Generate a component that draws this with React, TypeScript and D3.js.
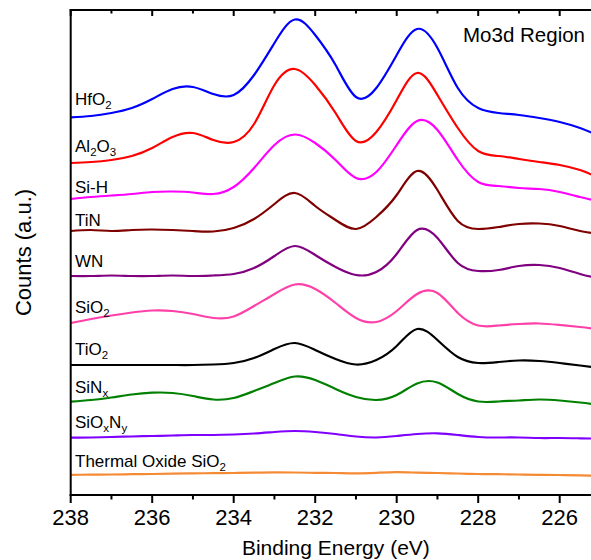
import React from "react";
import * as d3 from "d3";

const energies = [238, 237.5, 237, 236.5, 236, 235.5, 235, 234.5, 234, 233.5, 233, 232.5, 232, 231.5, 231, 230.5, 230, 229.5, 229, 228.5, 228, 227.5, 227, 226.5, 226, 225.5, 225.2];

const hfo2 = [377.7, 379, 382, 387, 396, 406, 408, 401, 400, 420, 452, 475.5, 460, 430, 398, 407, 440, 466, 447, 407, 387, 382, 380, 377, 373, 367, 362];
const al2o3 = [332, 333, 335, 339, 347, 358, 362, 355, 353, 371, 410, 426, 410, 382, 354, 363, 395, 422, 400, 367, 344, 339, 336, 333, 330, 325, 320];
const siH = [296, 298, 299.5, 301, 303, 303.5, 302.5, 301, 308, 327, 350, 360.5, 352, 335, 317, 323, 350, 374, 365, 335, 313, 309, 307, 306, 303, 298, 295];
const tin = [264, 265, 264, 265, 265.5, 265, 264, 263.5, 267, 276, 291, 302, 289, 275, 266, 278, 300, 324, 305, 274, 266, 268, 271, 271.5, 269, 264, 262];
const wn = [219, 219, 219.5, 219, 219, 219.5, 219, 219.5, 221, 227, 239, 249, 240, 228, 220, 223, 241, 265, 257, 232, 224, 225, 229, 230, 227, 221, 218];
const sio2 = [172, 176, 179.5, 182.5, 184.5, 184, 181, 177, 178.5, 189, 201, 210.5, 206, 192, 177, 173, 184, 201, 202, 182, 169.5, 169.5, 171, 171.5, 170, 168, 166.5];
const tio2 = [130, 130, 130, 130, 130, 130, 130, 130.5, 132, 137, 146, 152, 145, 136, 130.5, 135, 149, 166, 155, 138, 132, 133, 134.5, 134, 132, 129.5, 128];
const sinx = [93.3, 95, 97.5, 100.5, 102.3, 102, 99, 95.5, 97, 104, 112, 118.5, 115, 106, 98, 95, 100, 111.5, 112.5, 101, 93.5, 93.5, 94.5, 95.5, 94.5, 92.5, 91];
const sioxny = [57.3, 57.5, 58, 58.5, 59, 59.5, 60, 60, 60.5, 61.5, 63, 64, 63, 61, 58.5, 57.5, 59, 61, 61.7, 60, 58, 57.5, 57.5, 57, 57, 56.7, 56.5];
const thermal = [20.2, 20.3, 20.5, 20.8, 21, 21.4, 21.7, 21.8, 22, 22.4, 22.7, 22.5, 22.2, 22, 21.7, 22.2, 22.8, 22.4, 22, 21.5, 21, 20.8, 20.5, 20.2, 20, 19.7, 19.4];

const seriesNames = ["HfO_2", "Al_2O_3", "Si-H", "TiN", "WN", "SiO_2", "TiO_2", "SiN_x", "SiO_xN_y", "Thermal Oxide SiO_2"];
const seriesValues = [hfo2, al2o3, siH, tin, wn, sio2, tio2, sinx, sioxny, thermal];
const seriesColors = ["#0000FF", "#FF0000", "#FF00FF", "#800000", "#800080", "#FF40A8", "#000000", "#008000", "#8000FF", "#F58A35"];
const labelOffsets = [12, 11, 6, 5, 9, 10, 10, 9, 10, 8];

const majorTicks = [238, 236, 234, 232, 230, 228, 226];
const minorTicks = [237, 235, 233, 231, 229, 227];

const W = 591;
const H = 560;
const left = 70.7;
const top = 10;
const bottom = 495;
const right = left + 12.8 * 40.75;

function parseLabel(s: string) {
  const parts: { t: string; sub: boolean }[] = [];
  let i = 0;
  let buf = "";
  while (i < s.length) {
    if (s[i] === "_") {
      if (buf) parts.push({ t: buf, sub: false });
      buf = "";
      parts.push({ t: s[i + 1], sub: true });
      i += 2;
    } else {
      buf += s[i];
      i++;
    }
  }
  if (buf) parts.push({ t: buf, sub: false });
  return parts;
}

export default function App() {
  const x = d3.scaleLinear().domain([238, 225.2]).range([left, right]);
  const y = d3.scaleLinear().domain([0, 485]).range([bottom, top]);
  const font = "Arial, 'Liberation Sans', sans-serif";

  return (
    <svg width={W} height={H} style={{ position: "absolute", left: 0, top: 0, background: "#fff" }} fontFamily={font}>
      <defs>
        <clipPath id="plotclip">
          <rect x={left} y={top} width={right - left} height={bottom - top} />
        </clipPath>
      </defs>
      <g clipPath="url(#plotclip)">
        {seriesValues.map((vals, si) => {
          const pts: [number, number][] = energies.map((e, i) => [e, vals[i]]);
          const line = d3
            .line<[number, number]>()
            .x((d) => x(d[0]))
            .y((d) => y(d[1]))
            .curve(d3.curveNatural);
          return (
            <path key={si} d={line(pts) || ""} fill="none" stroke={seriesColors[si]} strokeWidth={2.2} strokeLinejoin="round" />
          );
        })}
      </g>
      {seriesNames.map((name, si) => {
        const parts = parseLabel(name);
        const by = y(seriesValues[si][0]) - labelOffsets[si];
        return (
          <text key={si} x={75} y={by} fontSize={17} fill="#000">
            {parts.map((p, pi) =>
              p.sub ? (
                <tspan key={pi} fontSize={11.5} dy={4}>{p.t}</tspan>
              ) : (
                <tspan key={pi} dy={pi > 0 && parts[pi - 1].sub ? -4 : 0}>{p.t}</tspan>
              )
            )}
          </text>
        );
      })}
      <text x={585} y={42} fontSize={20.5} textAnchor="end" fill="#000">Mo3d Region</text>
      <line x1={left} x2={left} y1={top - 1} y2={bottom + 1} stroke="#000" strokeWidth={2} />
      <line x1={left - 1} x2={right} y1={top} y2={top} stroke="#000" strokeWidth={2} />
      <line x1={left - 1} x2={right} y1={bottom} y2={bottom} stroke="#000" strokeWidth={2} />
      {majorTicks.map((t) => (
        <g key={"M" + t}>
          <line x1={x(t)} x2={x(t)} y1={bottom} y2={bottom + 8} stroke="#000" strokeWidth={2} />
          <line x1={x(t)} x2={x(t)} y1={top} y2={top + 6} stroke="#000" strokeWidth={2} />
          <text x={x(t)} y={525} fontSize={22} textAnchor="middle" fill="#000">{t}</text>
        </g>
      ))}
      {minorTicks.map((t) => (
        <g key={"m" + t}>
          <line x1={x(t)} x2={x(t)} y1={bottom} y2={bottom + 4.5} stroke="#000" strokeWidth={2} />
          <line x1={x(t)} x2={x(t)} y1={top} y2={top + 3.5} stroke="#000" strokeWidth={2} />
        </g>
      ))}
      <text x={(left + 591) / 2 + 5} y={555} fontSize={21} textAnchor="middle" fill="#000">Binding Energy (eV)</text>
      <text transform={`translate(31, ${(top + bottom) / 2}) rotate(-90)`} fontSize={22} textAnchor="middle" fill="#000">Counts (a.u.)</text>
    </svg>
  );
}
